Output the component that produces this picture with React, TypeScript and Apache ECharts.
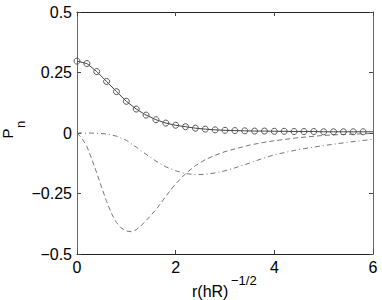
import React, { useEffect, useRef } from "react";
import * as echarts from "echarts";

const solidX = [0, 0.2, 0.4, 0.6, 0.8, 1.0, 1.2, 1.4, 1.6, 1.8, 2.0, 2.2, 2.4, 2.6, 2.8, 3.0, 3.2, 3.4, 3.6, 3.8, 4.0, 4.2, 4.4, 4.6, 4.8, 5.0, 5.2, 5.4, 5.6, 5.8, 6.0];
const solidY = [0.297, 0.287, 0.254, 0.213, 0.171, 0.131, 0.099, 0.074, 0.055, 0.041, 0.032, 0.026, 0.020, 0.016, 0.013, 0.011, 0.010, 0.009, 0.008, 0.008, 0.007, 0.007, 0.006, 0.006, 0.006, 0.005, 0.005, 0.005, 0.005, 0.005, 0.005];
// markers drawn on all but the last point
const solidMarked = solidX.map((x) => x < 5.9);

const dashX = [0, 0.1, 0.2, 0.3, 0.4, 0.5, 0.6, 0.7, 0.8, 0.9, 1.0, 1.1, 1.2, 1.3, 1.4, 1.5, 1.6, 1.7, 1.8, 1.9, 2.0, 2.2, 2.4, 2.6, 2.8, 3.0, 3.25, 3.5, 3.75, 4.0, 4.5, 5.0, 5.5, 6.0];
const dashY = [0, -0.022, -0.055, -0.108, -0.165, -0.225, -0.283, -0.333, -0.37, -0.393, -0.405, -0.408, -0.4, -0.383, -0.362, -0.34, -0.317, -0.29, -0.262, -0.235, -0.21, -0.168, -0.135, -0.11, -0.092, -0.077, -0.063, -0.05, -0.04, -0.032, -0.019, -0.01, -0.005, -0.002];

const dashDotX = [0, 0.2, 0.4, 0.6, 0.8, 1.0, 1.2, 1.4, 1.6, 1.8, 2.0, 2.2, 2.4, 2.6, 2.8, 3.0, 3.25, 3.5, 3.75, 4.0, 4.5, 5.0, 5.5, 6.0];
const dashDotY = [0, 0, -0.001, -0.004, -0.013, -0.03, -0.058, -0.088, -0.116, -0.14, -0.156, -0.168, -0.172, -0.171, -0.165, -0.156, -0.141, -0.124, -0.106, -0.09, -0.068, -0.052, -0.038, -0.026];

const xTickLabels = ["0", "2", "4", "6"];
const yTickLabels = ["\u22120.5", "\u22120.25", "0", "0.25", "0.5"];

const FONT = "'Liberation Sans', Arial, Helvetica, sans-serif";

export default function App() {
  const ref = useRef<HTMLDivElement>(null);
  useEffect(() => {
    if (!ref.current) return;
    const chart = echarts.init(ref.current, undefined, { renderer: "svg" });
    const axisLineDark = { show: true, onZero: false, lineStyle: { color: "#222", width: 1 } };
    const axisLineGray = { show: true, onZero: false, lineStyle: { color: "#666", width: 1 } };
    const tick = { show: true, inside: true, length: 4, lineStyle: { color: "#444", width: 1 } };
    const grid = { left: 77, right: 9, top: 12, bottom: 46, containLabel: false };
    const txt = (text: string, x: number, y: number, size: number, rot = 0) => ({
      type: "text",
      x,
      y,
      rotation: rot,
      style: {
        text,
        font: `${size}px ${FONT}`,
        fill: "#000",
        lineHeight: Math.round(size * 0.8),
        align: "left",
        verticalAlign: "middle",
        textAlign: "left",
        textVerticalAlign: "middle",
      },
    });
    chart.setOption({
      animation: false,
      backgroundColor: "#fff",
      grid,
      xAxis: [
        {
          type: "value",
          min: 0,
          max: 6,
          interval: 2,
          position: "bottom",
          axisLine: axisLineDark,
          axisTick: tick,
          splitLine: { show: false },
          axisLabel: {
            margin: 5,
            color: "#000",
            fontSize: 16,
            fontFamily: FONT,
            formatter: (v: number) => xTickLabels[Math.round(v / 2)],
          },
        },
        {
          type: "value",
          min: 0,
          max: 6,
          interval: 2,
          position: "top",
          axisLine: axisLineDark,
          axisTick: tick,
          splitLine: { show: false },
          axisLabel: { show: false },
        },
      ],
      yAxis: [
        {
          type: "value",
          min: -0.5,
          max: 0.5,
          interval: 0.25,
          position: "left",
          axisLine: axisLineGray,
          axisTick: tick,
          splitLine: { show: false },
          axisLabel: {
            margin: 5,
            color: "#000",
            fontSize: 16,
            fontFamily: FONT,
            formatter: (v: number) => yTickLabels[Math.round((v + 0.5) / 0.25)],
          },
        },
        {
          type: "value",
          min: -0.5,
          max: 0.5,
          interval: 0.25,
          position: "right",
          axisLine: axisLineGray,
          axisTick: tick,
          splitLine: { show: false },
          axisLabel: { show: false },
        },
      ],
      series: [
        {
          type: "line",
          data: dashX.map((x, i) => [x, dashY[i]]),
          showSymbol: false,
          symbol: "none",
          lineStyle: { color: "#777", width: 1, type: [5, 3] },
          z: 2,
        },
        {
          type: "line",
          data: dashDotX.map((x, i) => [x, dashDotY[i]]),
          showSymbol: false,
          symbol: "none",
          lineStyle: { color: "#777", width: 1, type: [5, 3, 1, 3] },
          z: 2,
        },
        {
          type: "line",
          data: solidX.map((x, i) =>
            solidMarked[i] ? { value: [x, solidY[i]] } : { value: [x, solidY[i]], symbol: "none" }
          ),
          symbol: "circle",
          symbolSize: 6,
          showSymbol: true,
          lineStyle: { color: "#444", width: 1 },
          itemStyle: { color: "rgba(0,0,0,0)", borderColor: "#555", borderWidth: 1 },
          z: 3,
        },
      ],
      graphic: [
        txt("r(hR)", 192, 291, 16),
        txt("\u22121/2", 231, 280, 13),
        txt("P", 7, 138.5, 15, Math.PI / 2),
        txt("n", 20, 128, 13, Math.PI / 2),
      ],
    });
    return () => chart.dispose();
  }, []);
  return (
    <div
      ref={ref}
      style={{ position: "fixed", left: 0, top: 0, width: 382, height: 300, background: "#fff" }}
    />
  );
}
